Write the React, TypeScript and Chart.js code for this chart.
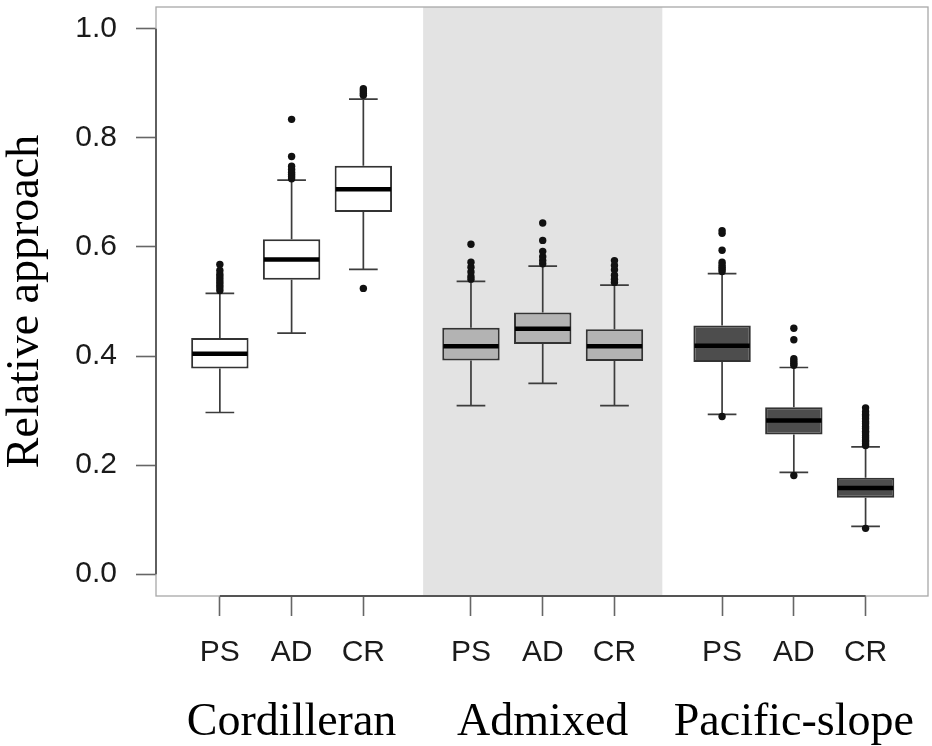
import React, { useEffect, useRef } from "react";
import { Chart, registerables } from "chart.js";

Chart.register(...registerables);

// Groups along the x axis and the three samples drawn inside each group
const groups = ["Cordilleran", "Admixed", "Pacific-slope"];
const groupCenters = [2, 5.5, 9];
const subLabels = ["PS", "AD", "CR", "PS", "AD", "CR", "PS", "AD", "CR"];
const positions = [1, 2, 3, 4.5, 5.5, 6.5, 8, 9, 10];
const groupOfBox = [0, 0, 0, 1, 1, 1, 2, 2, 2];

// Five-number summaries for each box
const lowerWhisker = [0.2965, 0.442, 0.559, 0.309, 0.35, 0.309, 0.293, 0.1865, 0.0875];
const q1 = [0.377, 0.54, 0.664, 0.392, 0.422, 0.391, 0.389, 0.256, 0.14];
const median = [0.404, 0.577, 0.706, 0.418, 0.45, 0.418, 0.419, 0.282, 0.158];
const q3 = [0.433, 0.614, 0.749, 0.452, 0.48, 0.449, 0.456, 0.306, 0.1766];
const upperWhisker = [0.515, 0.7225, 0.871, 0.537, 0.565, 0.53, 0.551, 0.379, 0.2335];

// Points beyond the whiskers, one list per box
const outliers = [
  [0.52, 0.525, 0.53, 0.535, 0.54, 0.545, 0.55, 0.557, 0.568],
  [0.725, 0.729, 0.733, 0.737, 0.742, 0.748, 0.766, 0.834],
  [0.524, 0.878, 0.882, 0.886, 0.89],
  [0.541, 0.546, 0.554, 0.563, 0.572, 0.605],
  [0.569, 0.575, 0.582, 0.592, 0.612, 0.644],
  [0.535, 0.541, 0.548, 0.558, 0.566, 0.575],
  [0.289, 0.555, 0.559, 0.563, 0.567, 0.572, 0.594, 0.625, 0.63],
  [0.181, 0.383, 0.387, 0.391, 0.395, 0.43, 0.451],
  [0.084, 0.236, 0.239, 0.243, 0.246, 0.25, 0.254, 0.259, 0.262, 0.267, 0.271, 0.276, 0.28, 0.285, 0.29, 0.293, 0.298, 0.305],
];

const yTicks = [0, 0.2, 0.4, 0.6, 0.8, 1.0];
const yRange = [-0.04, 1.04];
const xRange = [0.11, 10.87];
const shadedBand = [3.833, 7.167];

const groupFill = ["#ffffff", "#b3b3b3", "#4d4d4d"];

const SANS = "'Liberation Sans', Arial, Helvetica, sans-serif";
const SERIF = "'Liberation Serif', 'Times New Roman', serif";

const boxParts = {
  id: "boxParts",
  beforeDatasetsDraw(chart: any) {
    const { ctx, chartArea, scales } = chart;
    const x = scales.x;
    const y = scales.y;
    ctx.save();
    // shaded background behind the middle group
    const b0 = x.getPixelForValue(shadedBand[0]);
    const b1 = x.getPixelForValue(shadedBand[1]);
    ctx.fillStyle = "#e3e3e3";
    ctx.fillRect(b0, chartArea.top, b1 - b0, chartArea.bottom - chartArea.top);

    // whiskers and staples
    const meta = chart.getDatasetMeta(0);
    ctx.strokeStyle = "#3c3c3c";
    ctx.lineWidth = 1.7;
    positions.forEach((p, i) => {
      const cx = x.getPixelForValue(p);
      const half = meta.data[i].width / 4;
      const segs = [
        [q3[i], upperWhisker[i]],
        [q1[i], lowerWhisker[i]],
      ];
      for (const [from, to] of segs) {
        const yTo = y.getPixelForValue(to);
        ctx.beginPath();
        ctx.moveTo(cx, y.getPixelForValue(from));
        ctx.lineTo(cx, yTo);
        ctx.moveTo(cx - half, yTo);
        ctx.lineTo(cx + half, yTo);
        ctx.stroke();
      }
    });
    ctx.restore();
  },
  afterDatasetsDraw(chart: any) {
    const { ctx, scales } = chart;
    const x = scales.x;
    const y = scales.y;
    const meta = chart.getDatasetMeta(0);
    ctx.save();
    ctx.strokeStyle = "#000000";
    ctx.lineWidth = 4.5;
    positions.forEach((p, i) => {
      const cx = x.getPixelForValue(p);
      const half = meta.data[i].width / 2 - 1;
      const my = y.getPixelForValue(median[i]);
      ctx.beginPath();
      ctx.moveTo(cx - half, my);
      ctx.lineTo(cx + half, my);
      ctx.stroke();
    });
    ctx.restore();
  },
  afterDraw(chart: any) {
    const { ctx, chartArea, scales } = chart;
    const x = scales.x;
    const y = scales.y;
    ctx.save();
    // plot frame
    ctx.strokeStyle = "#a8a8a8";
    ctx.lineWidth = 1.3;
    ctx.strokeRect(chartArea.left, chartArea.top, chartArea.right - chartArea.left, chartArea.bottom - chartArea.top);
    // axis lines spanning first to last tick
    ctx.strokeStyle = "#555555";
    ctx.lineWidth = 1.8;
    ctx.beginPath();
    ctx.moveTo(chartArea.left, y.getPixelForValue(yTicks[0]));
    ctx.lineTo(chartArea.left, y.getPixelForValue(yTicks[yTicks.length - 1]));
    ctx.moveTo(x.getPixelForValue(positions[0]), chartArea.bottom);
    ctx.lineTo(x.getPixelForValue(positions[positions.length - 1]), chartArea.bottom);
    ctx.stroke();
    ctx.restore();
  },
};

export default function App() {
  const canvasRef = useRef<HTMLCanvasElement | null>(null);

  useEffect(() => {
    const canvas = canvasRef.current;
    if (!canvas) return;

    const boxData = positions.map((p, i) => ({ x: p, y: [q1[i], q3[i]] }));
    const outlierData: { x: number; y: number }[] = [];
    outliers.forEach((list, i) => list.forEach((v) => outlierData.push({ x: positions[i], y: v })));

    const chart = new Chart(canvas, {
      type: "bar",
      data: {
        datasets: [
          {
            type: "bar",
            data: boxData as any,
            backgroundColor: groupOfBox.map((g) => groupFill[g]),
            borderColor: "#333333",
            borderWidth: 2,
            borderSkipped: false,
            barPercentage: 1,
            categoryPercentage: 0.8,
            order: 2,
          },
          {
            type: "scatter",
            data: outlierData as any,
            pointRadius: 3.7,
            pointBackgroundColor: "#111111",
            pointBorderWidth: 0,
            showLine: false,
            order: 1,
          } as any,
        ],
      },
      options: {
        animation: false,
        responsive: false,
        devicePixelRatio: 1,
        layout: { padding: { top: 7, right: 1, bottom: 0, left: 0 } },
        plugins: {
          legend: { display: false },
          tooltip: { enabled: false },
        },
        scales: {
          x: {
            type: "linear",
            min: xRange[0],
            max: xRange[1],
            offset: false,
            weight: 0,
            afterBuildTicks: (scale: any) => {
              scale.ticks = positions.map((v) => ({ value: v }));
            },
            afterFit: (scale: any) => {
              scale.height = 80;
              scale.paddingLeft = 0;
              scale.paddingRight = 0;
            },
            grid: {
              offset: false,
              drawOnChartArea: false,
              drawTicks: true,
              tickLength: 20,
              tickColor: "#666666",
              tickWidth: 1.6,
            },
            border: { display: false },
            ticks: {
              autoSkip: false,
              maxRotation: 0,
              padding: 22,
              color: "#1a1a1a",
              font: { family: SANS, size: 30, lineHeight: 1 },
              callback: (_v: any, i: number) => subLabels[i],
            },
          },
          x2: {
            type: "linear",
            position: "bottom",
            min: xRange[0],
            max: xRange[1],
            offset: false,
            weight: 1,
            afterBuildTicks: (scale: any) => {
              scale.ticks = groupCenters.map((v) => ({ value: v }));
            },
            afterFit: (scale: any) => {
              scale.height = 70;
              scale.paddingLeft = 0;
              scale.paddingRight = 0;
            },
            grid: { display: false, drawTicks: false, drawOnChartArea: false },
            border: { display: false },
            ticks: {
              autoSkip: false,
              maxRotation: 0,
              padding: 24,
              color: "#000000",
              font: { family: SERIF, size: 46, lineHeight: 1 },
              callback: (_v: any, i: number) => groups[i],
            },
          },
          y: {
            type: "linear",
            min: yRange[0],
            max: yRange[1],
            afterBuildTicks: (scale: any) => {
              scale.ticks = yTicks.map((v) => ({ value: v }));
            },
            afterFit: (scale: any) => {
              scale.width = 156;
              scale.paddingTop = 0;
              scale.paddingBottom = 0;
            },
            grid: {
              drawOnChartArea: false,
              drawTicks: true,
              tickLength: 20,
              tickColor: "#666666",
              tickWidth: 1.6,
            },
            border: { display: false },
            ticks: {
              padding: 19,
              color: "#1a1a1a",
              font: { family: SANS, size: 30, lineHeight: 1 },
              callback: (v: any) => Number(v).toFixed(1),
            },
            title: {
              display: true,
              text: "Relative approach",
              color: "#000000",
              padding: { top: 5, bottom: 0 },
              font: { family: SERIF, size: 46, lineHeight: 0.9 },
            },
          },
        },
      },
      plugins: [boxParts],
    } as any);

    return () => {
      chart.destroy();
    };
  }, []);

  return (
    <div
      style={{
        position: "fixed",
        left: 0,
        top: 0,
        width: 932,
        height: 746,
        background: "#ffffff",
      }}
    >
      <canvas ref={canvasRef} width={932} height={746} />
    </div>
  );
}
